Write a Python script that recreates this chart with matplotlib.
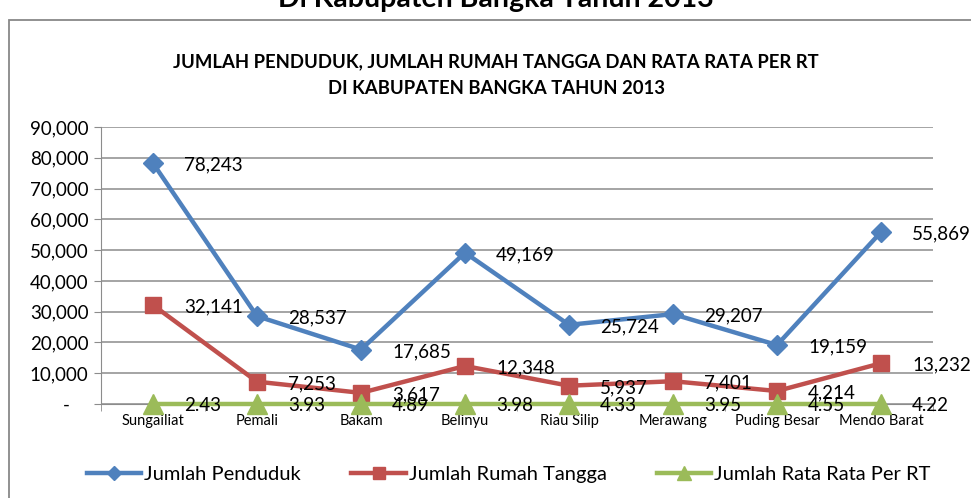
import matplotlib
matplotlib.use("Agg")
import matplotlib.pyplot as plt
from matplotlib.patches import Rectangle
from matplotlib.ticker import FuncFormatter

kecamatan = ['Sungailiat', 'Pemali', 'Bakam', 'Belinyu', 'Riau Silip',
             'Merawang', 'Puding Besar', 'Mendo Barat']
penduduk = [78243, 28537, 17685, 49169, 25724, 29207, 19159, 55869]
rumah_tangga = [32141, 7253, 3617, 12348, 5937, 7401, 4214, 13232]
rata_rata = [2.43, 3.93, 4.89, 3.98, 4.33, 3.95, 4.55, 4.22]

BLUE = '#4F81BD'
RED = '#C0504D'
GREEN = '#9BBB59'
GRID = '#8C8C8C'
FONT = 'Lato'

W, H = 971, 498
fig = plt.figure(figsize=(W / 100, H / 100), dpi=100)

# chart border (cut off at right/bottom like the screenshot)
fig.patches.append(Rectangle((9 / W, -0.1), 1.2, 1.1 - 20 / H, transform=fig.transFigure,
                             fill=False, edgecolor='#888888', linewidth=1.3))

# clipped heading above the chart
fig.text(0.511, 1 - 7 / H, 'Di Kabupaten Bangka Tahun 2013', ha='center', va='baseline',
         fontsize=20.5, fontweight='bold', family=FONT)

fig.text(0.511, 1 - 62 / H, 'JUMLAH PENDUDUK, JUMLAH RUMAH TANGGA DAN RATA RATA PER RT',
         ha='center', va='center', fontsize=13.3, fontweight='bold', family=FONT)
fig.text(0.511, 1 - 88 / H, 'DI KABUPATEN BANGKA TAHUN 2013',
         ha='center', va='center', fontsize=13.3, fontweight='bold', family=FONT)

ax = fig.add_axes([101 / W, 1 - 404 / H, 832 / W, 277 / H])
x = list(range(len(kecamatan)))

ax.plot(x, penduduk, color=BLUE, lw=3.2, marker='D', ms=10, label='Jumlah Penduduk',
        zorder=4, clip_on=False)
ax.plot(x, rumah_tangga, color=RED, lw=3.2, marker='s', ms=12, label='Jumlah Rumah Tangga',
        zorder=4, clip_on=False)
ax.plot(x, rata_rata, color=GREEN, lw=3.2, marker='^', ms=14, label='Jumlah Rata Rata Per RT',
        zorder=4, clip_on=False)

for ys, fmt in [(penduduk, '{:,}'), (rumah_tangga, '{:,}'), (rata_rata, '{:.2f}')]:
    for xi, yi in zip(x, ys):
        ax.annotate(fmt.format(yi), (xi, yi), xytext=(31, -2), textcoords='offset pixels',
                    ha='left', va='center', fontsize=13.5, family=FONT, zorder=5,
                    annotation_clip=False)

ax.set_xlim(-0.5, len(kecamatan) - 0.5)
ax.set_ylim(0, 90000)
ax.set_yticks(range(0, 90001, 10000))
ax.yaxis.set_major_formatter(FuncFormatter(lambda v, p: '-    ' if v == 0 else f'{int(v):,}'))
ax.set_xticks(x)
ax.set_xticklabels(kecamatan)
ax.set_xticks([i - 0.5 for i in range(len(kecamatan) + 1)], minor=True)
ax.tick_params(axis='x', which='major', length=0, pad=7, labelsize=10.5)
ax.tick_params(axis='x', which='minor', length=5, color=GRID, direction='out')
ax.tick_params(axis='y', length=5, color=GRID, labelsize=13.5, pad=4)
for lab in ax.get_xticklabels() + ax.get_yticklabels():
    lab.set_family(FONT)

ax.grid(axis='y', color=GRID, lw=1.1)
ax.set_axisbelow(True)
for s in ['top', 'right']:
    ax.spines[s].set_visible(False)
ax.spines['left'].set_color(GRID)
ax.spines['bottom'].set_color(GRID)
ax.patch.set_alpha(0)

fig.legend(loc='center', bbox_to_anchor=(0.524, 1 - 474 / H), ncol=3, frameon=False,
           prop={'family': FONT, 'size': 14.5}, handlelength=2.7, handletextpad=0.15,
           columnspacing=2.5, markerscale=0.75)

fig.savefig('out.png', dpi=100)
